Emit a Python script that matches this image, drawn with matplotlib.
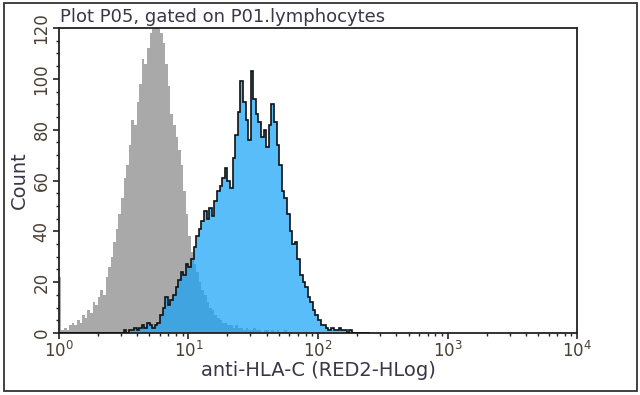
import numpy as np
import matplotlib
matplotlib.use('Agg')
import matplotlib.pyplot as plt
from matplotlib.ticker import LogLocator, MultipleLocator, NullFormatter
from matplotlib.patches import Rectangle

# bins: 50 per decade starting at 10^0
bins_per_decade = 50

# isotype control (gray), counts per bin
gray_counts = [22, 1, 2, 1, 3, 4, 3, 5, 4, 7,
               6, 9, 8, 12, 11, 14, 17, 15, 22, 26,
               30, 36, 41, 47, 53, 61, 66, 74, 84, 82,
               91, 98, 108, 106, 112, 118, 123, 126, 124, 118,
               114, 106, 97, 86, 82, 77, 72, 66, 56, 47,
               38, 32, 27, 24, 20, 17, 15, 12, 10, 9,
               7, 6, 5, 4, 4, 3, 3, 2, 3, 2,
               2, 1, 2, 1, 1, 2, 1, 1, 0, 1,
               1, 0, 1, 0, 1, 0, 0, 1, 0, 0]

# anti-HLA-C stained (blue), counts per bin
blue_counts = [0, 0, 0, 0, 0, 0, 0, 0, 0, 0,
               0, 0, 0, 0, 0, 0, 0, 0, 0, 0,
               0, 0, 0, 0, 0, 1, 0, 1, 1, 2,
               1, 2, 3, 2, 4, 3, 2, 3, 4, 7,
               10, 14, 11, 13, 15, 18, 21, 24, 23, 27,
               26, 29, 34, 38, 41, 44, 48, 45, 49, 46,
               52, 56, 58, 61, 65, 60, 57, 69, 78, 87,
               99, 91, 84, 76, 103, 92, 86, 83, 77, 80,
               73, 82, 90, 83, 74, 66, 56, 53, 47, 40,
               35, 36, 29, 23, 20, 18, 14, 12, 9, 7,
               5, 3, 3, 2, 1, 2, 1, 1, 2, 1,
               1, 0, 1, 0, 0, 0, 0, 0, 0, 0]

gray_edges = 10 ** (np.arange(len(gray_counts) + 1) / bins_per_decade)
blue_edges = 10 ** (np.arange(len(blue_counts) + 1) / bins_per_decade)

tick_col = '#4a3f33'
text_col = '#3a3548'

fig = plt.figure(figsize=(6.4, 3.95), dpi=100)
ax = fig.add_axes([0.092, 0.157, 0.81, 0.772])

ax.stairs(gray_counts, gray_edges, fill=True, color='#a9a9a9', zorder=1)
ax.stairs(blue_counts, blue_edges, fill=True, color='#13a2f8', alpha=0.7, zorder=2)
ax.stairs(blue_counts, blue_edges, fill=False, color='#111111', linewidth=1.2, zorder=3)

ax.set_xscale('log')
ax.set_xlim(1, 1e4)
ax.set_ylim(0, 120)

ax.xaxis.set_major_locator(LogLocator(base=10, numticks=10))
ax.xaxis.set_minor_locator(LogLocator(base=10, subs=np.arange(2, 10), numticks=20))
ax.xaxis.set_minor_formatter(NullFormatter())
ax.yaxis.set_major_locator(MultipleLocator(20))
ax.yaxis.set_minor_locator(MultipleLocator(5))

ax.tick_params(axis='both', which='major', direction='out', length=4, width=1.2,
               labelsize=12, labelcolor=tick_col, color='#222222', pad=2)
ax.tick_params(axis='both', which='minor', direction='out', length=2.5, width=1.0,
               color='#222222')
for lab in ax.get_yticklabels():
    lab.set_rotation(90)
    lab.set_va('center')

for sp in ax.spines.values():
    sp.set_linewidth(1.3)
    sp.set_color('#222222')

ax.set_xlabel('anti-HLA-C (RED2-HLog)', fontsize=14, color=text_col, labelpad=0)
ax.set_ylabel('Count', fontsize=14, color=text_col, labelpad=3)
fig.text(0.094, 0.934, 'Plot P05, gated on P01.lymphocytes', fontsize=13,
         color=text_col, ha='left', va='bottom')

# outer frame
fig.patches.append(Rectangle((0.006, 0.01), 0.989, 0.983, transform=fig.transFigure,
                             fill=False, edgecolor='#333333', linewidth=1.3))

plt.savefig('out.png', dpi=100)
